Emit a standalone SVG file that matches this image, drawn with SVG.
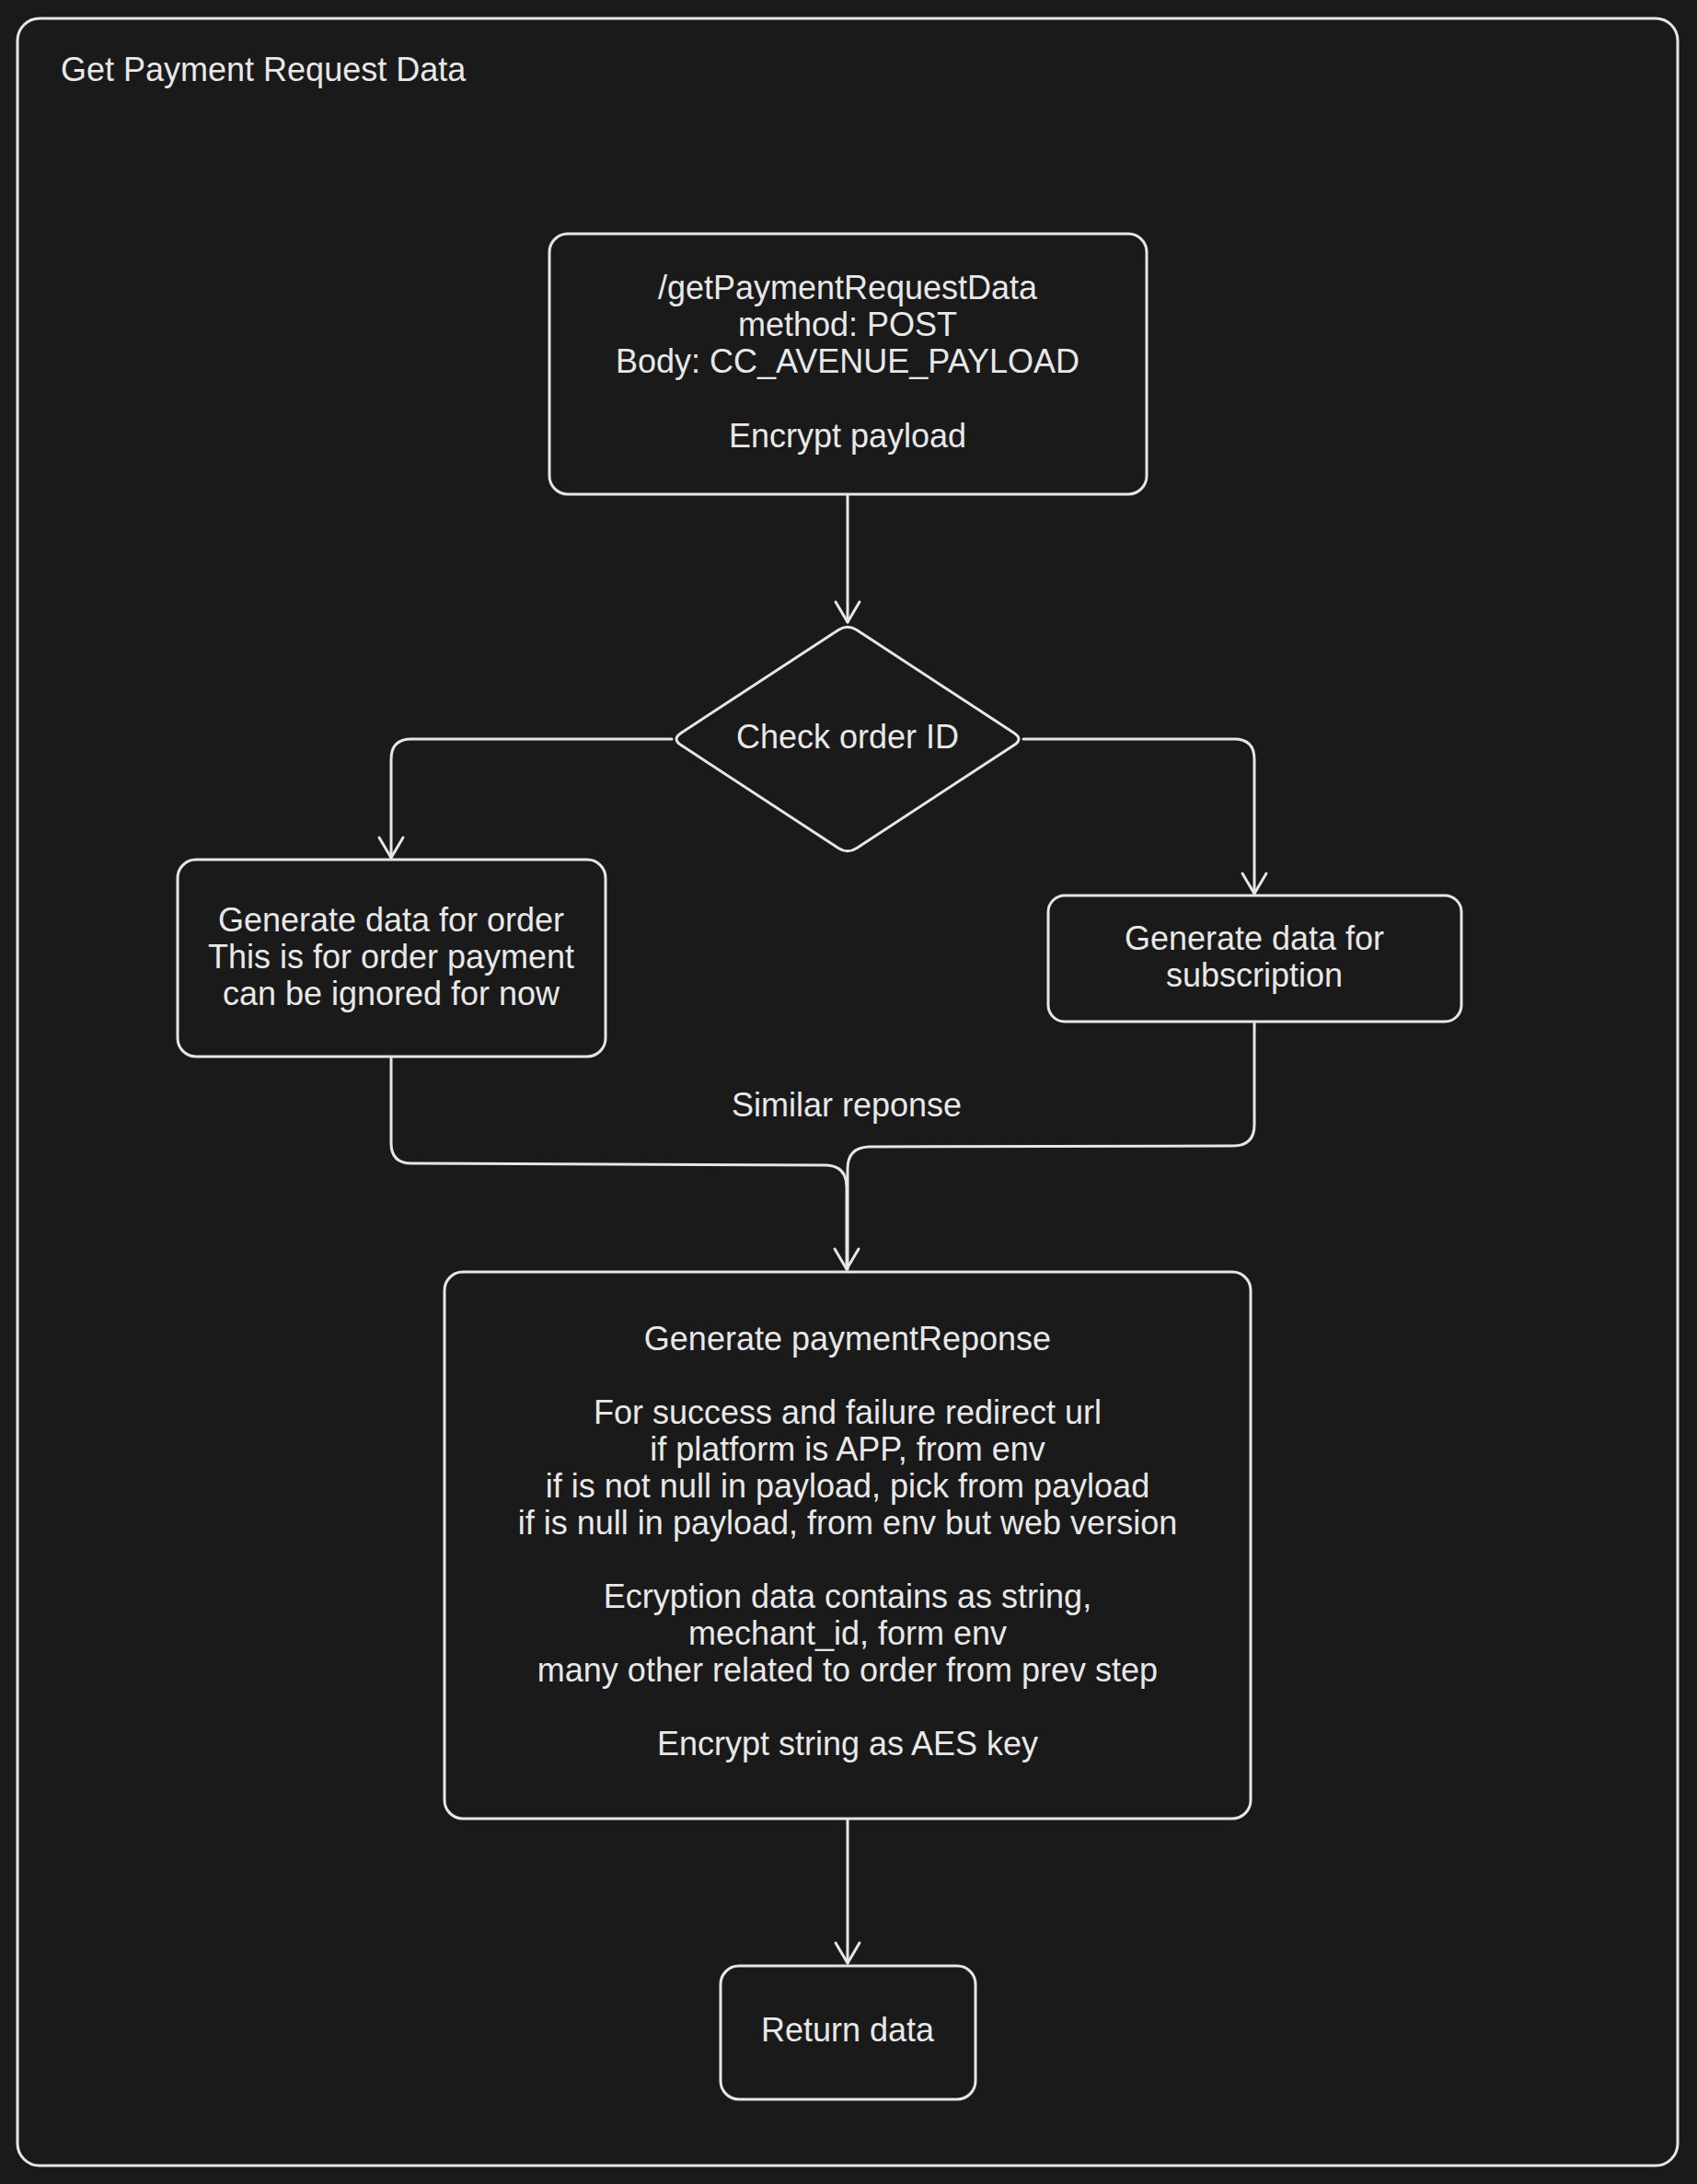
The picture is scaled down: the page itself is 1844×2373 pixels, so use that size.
<svg xmlns="http://www.w3.org/2000/svg" width="1844" height="2373" viewBox="0 0 1844 2373">
  <style>
    .shape { fill: none; stroke: #e6e6e6; stroke-width: 3; stroke-linecap: round; stroke-linejoin: round; }
    .conn { fill: none; stroke: #e6e6e6; stroke-width: 3; stroke-linecap: round; stroke-linejoin: round; }
    .t { font-family: "Liberation Sans", Arial, Helvetica, sans-serif; font-size: 36px; fill: #e8e8e8; }
    .c { text-anchor: middle; }
  </style>
  <defs>
    <marker id="arrow" markerUnits="userSpaceOnUse" markerWidth="40" markerHeight="40" refX="0" refY="0" viewBox="-30 -20 40 40" orient="auto" overflow="visible">
      <path d="M -22 -13 L 0 0 L -22 13" fill="none" stroke="#e6e6e6" stroke-width="3" stroke-linecap="round" stroke-linejoin="round"/>
    </marker>
  </defs>
  <rect x="0" y="0" width="1844" height="2373" fill="#1a1a1a"/>

  <g id="frame">
    <rect class="shape" x="19" y="20" width="1804" height="2333" rx="24" ry="24"/>
    <text class="t" x="66" y="88">Get Payment Request Data</text>
  </g>

  <g id="connectors">
    <path class="conn" d="M 921 538 L 921 676" marker-end="url(#arrow)"/>
    <path class="conn" d="M 730 803 L 447 803 Q 425 803 425 825 L 425 932" marker-end="url(#arrow)"/>
    <path class="conn" d="M 1112 803 L 1341 803 Q 1363 803 1363 825 L 1363 971" marker-end="url(#arrow)"/>
    <path class="conn" d="M 425 1150 L 425 1242 Q 425 1264 447 1264 L 898 1266 Q 920 1267 920 1290 L 920 1379" marker-end="url(#arrow)"/>
    <path class="conn" d="M 1363 1112 L 1363 1222 Q 1363 1245 1340 1245 L 944 1246 Q 921 1247 921 1270 L 921 1379"/>
    <path class="conn" d="M 921 1977 L 921 2133" marker-end="url(#arrow)"/>
    <text class="t c" x="920" y="1213">Similar reponse</text>
  </g>

  <g id="node-endpoint">
    <rect class="shape" x="597" y="254" width="649" height="283" rx="20" ry="20"/>
    <text class="t c" x="921" y="325">/getPaymentRequestData</text>
    <text class="t c" x="921" y="365">method: POST</text>
    <text class="t c" x="921" y="405">Body: CC_AVENUE_PAYLOAD</text>
    <text class="t c" x="921" y="486">Encrypt payload</text>
  </g>

  <g id="node-check">
    <path class="shape" d="M 931 684.6 L 1102 796.4 Q 1112 803 1102 809.6 L 931 921.4 Q 921 928 911 921.4 L 740 809.6 Q 730 803 740 796.4 L 911 684.6 Q 921 678 931 684.6 Z"/>
    <text class="t c" x="921" y="813">Check order ID</text>
  </g>

  <g id="node-order">
    <rect class="shape" x="193" y="934" width="465" height="214" rx="20" ry="20"/>
    <text class="t c" x="425" y="1012">Generate data for order</text>
    <text class="t c" x="425" y="1052">This is for order payment</text>
    <text class="t c" x="425" y="1092">can be ignored for now</text>
  </g>

  <g id="node-subscription">
    <rect class="shape" x="1139" y="973" width="449" height="137" rx="18" ry="18"/>
    <text class="t c" x="1363" y="1032">Generate data for</text>
    <text class="t c" x="1363" y="1072">subscription</text>
  </g>

  <g id="node-generate">
    <rect class="shape" x="483" y="1382" width="876" height="594" rx="20" ry="20"/>
    <text class="t c" x="921" y="1467">Generate paymentReponse</text>
    <text class="t c" x="921" y="1547">For success and failure redirect url</text>
    <text class="t c" x="921" y="1587">if platform is APP, from env</text>
    <text class="t c" x="921" y="1627">if is not null in payload, pick from payload</text>
    <text class="t c" x="921" y="1667">if is null in payload, from env but web version</text>
    <text class="t c" x="921" y="1747">Ecryption data contains as string,</text>
    <text class="t c" x="921" y="1787">mechant_id, form env</text>
    <text class="t c" x="921" y="1827">many other related to order from prev step</text>
    <text class="t c" x="921" y="1907">Encrypt string as AES key</text>
  </g>

  <g id="node-return">
    <rect class="shape" x="783" y="2136" width="277" height="145" rx="20" ry="20"/>
    <text class="t c" x="921" y="2218">Return data</text>
  </g>
</svg>
